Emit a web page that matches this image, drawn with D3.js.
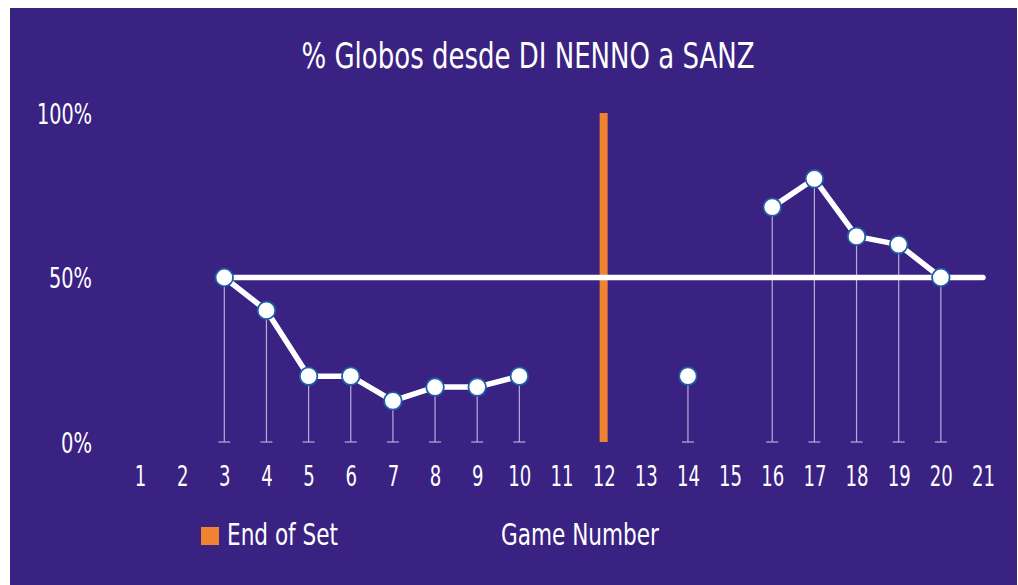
<!DOCTYPE html>
<html>
<head>
<meta charset="utf-8">
<script src="https://cdn.jsdelivr.net/npm/d3@7"></script>
<style>
  html, body { margin: 0; padding: 0; background: #ffffff; }
  svg { display: block; }
  text { font-family: "Liberation Sans Narrow", "DejaVu Sans Condensed", "Roboto", sans-serif; fill: #ffffff; }
</style>
</head>
<body>
<svg id="chart" width="1018" height="585"></svg>
<script>
const title = "% Globos desde DI NENNO a SANZ";
const games = [1,2,3,4,5,6,7,8,9,10,11,12,13,14,15,16,17,18,19,20,21];
const pctLobs = [null,null,50,40,20,20,12.5,16.7,16.7,20,null,null,null,20,null,71.4,80,62.5,60,50,null];
const yTicks = [0, 50, 100];
const endOfSetGames = [12];
const refLevel = 50;
const refRange = [3, 21];
const legendLabel = "End of Set";
const xAxisTitle = "Game Number";

const W = 1018, H = 585;
const svg = d3.select("#chart");
const purple = "#3a2283";
const orange = "#f08332";

svg.append("rect").attr("x", 10).attr("y", 8).attr("width", W - 11).attr("height", H - 8).attr("fill", purple);

const x = d3.scaleLinear().domain([1, 21]).range([140, 983]);
const y = d3.scaleLinear().domain([0, 100]).range([442, 113]);

// title
svg.append("text").attr("x", 528).attr("y", 68).attr("text-anchor", "middle")
  .attr("font-size", 36).attr("textLength", 453).attr("lengthAdjust", "spacingAndGlyphs").text(title);

function fitLen(s) {
  let w = 0;
  for (const c of s) w += (c === "%") ? 19 : 12;
  return w;
}

// y axis labels
const yAxis = d3.axisLeft(y).tickValues(yTicks).tickFormat(d => d + "%").tickSize(0).tickPadding(0);
const gy = svg.append("g").attr("transform", "translate(92,0)").call(yAxis);
gy.select(".domain").remove();
gy.selectAll("text").attr("font-size", 28).attr("fill", "#fff").attr("font-family", null).attr("dy", "0.36em")
  .attr("textLength", function() { return fitLen(this.textContent); }).attr("lengthAdjust", "spacingAndGlyphs");

// x axis labels
const xAxis = d3.axisBottom(x).tickValues(games).tickFormat(d3.format("d")).tickSize(0).tickPadding(0);
const gx = svg.append("g").attr("transform", "translate(0,466)").call(xAxis);
gx.select(".domain").remove();
gx.selectAll("text").attr("font-size", 28).attr("fill", "#fff").attr("font-family", null).attr("dy", "0.71em")
  .attr("textLength", function() { return this.textContent.length * 11.5; }).attr("lengthAdjust", "spacingAndGlyphs");

const data = games.map((g, i) => ({ g, v: pctLobs[i] }));
const valid = data.filter(d => d.v != null);

// drop lines
const drops = svg.append("g");
drops.selectAll("line.drop").data(valid).join("line").attr("class", "drop")
  .attr("x1", d => x(d.g)).attr("x2", d => x(d.g))
  .attr("y1", d => y(d.v)).attr("y2", y(0))
  .attr("stroke", "#b7aed6").attr("stroke-width", 1.2);
drops.selectAll("line.foot").data(valid).join("line").attr("class", "foot")
  .attr("x1", d => x(d.g) - 6).attr("x2", d => x(d.g) + 6)
  .attr("y1", y(0)).attr("y2", y(0))
  .attr("stroke", "#b7aed6").attr("stroke-width", 1.2);

// end of set bar
svg.selectAll("rect.eos").data(endOfSetGames).join("rect").attr("class", "eos")
  .attr("x", d => x(d) - 4).attr("width", 8)
  .attr("y", y(100)).attr("height", y(0) - y(100)).attr("fill", orange);

// reference 50% line
svg.append("line").attr("x1", x(refRange[0])).attr("x2", x(refRange[1]))
  .attr("y1", y(refLevel)).attr("y2", y(refLevel))
  .attr("stroke", "#fff").attr("stroke-width", 5.5).attr("stroke-linecap", "round");

// data line
const line = d3.line().defined(d => d.v != null).x(d => x(d.g)).y(d => y(d.v));
svg.append("path").datum(data).attr("d", line)
  .attr("fill", "none").attr("stroke", "#fff").attr("stroke-width", 5.5).attr("stroke-linejoin", "round");

// points
svg.selectAll("circle.pt").data(valid).join("circle").attr("class", "pt")
  .attr("cx", d => x(d.g)).attr("cy", d => y(d.v)).attr("r", 8.8)
  .attr("fill", "#fff").attr("stroke", "#1e5fa6").attr("stroke-width", 1.8);

// legend
svg.append("rect").attr("x", 201).attr("y", 527).attr("width", 18).attr("height", 18).attr("fill", orange);
svg.append("text").attr("x", 227).attr("y", 545).attr("font-size", 31)
  .attr("textLength", 111).attr("lengthAdjust", "spacingAndGlyphs").text(legendLabel);
svg.append("text").attr("x", 501).attr("y", 545).attr("font-size", 31)
  .attr("textLength", 158).attr("lengthAdjust", "spacingAndGlyphs").text(xAxisTitle);
</script>
</body>
</html>
